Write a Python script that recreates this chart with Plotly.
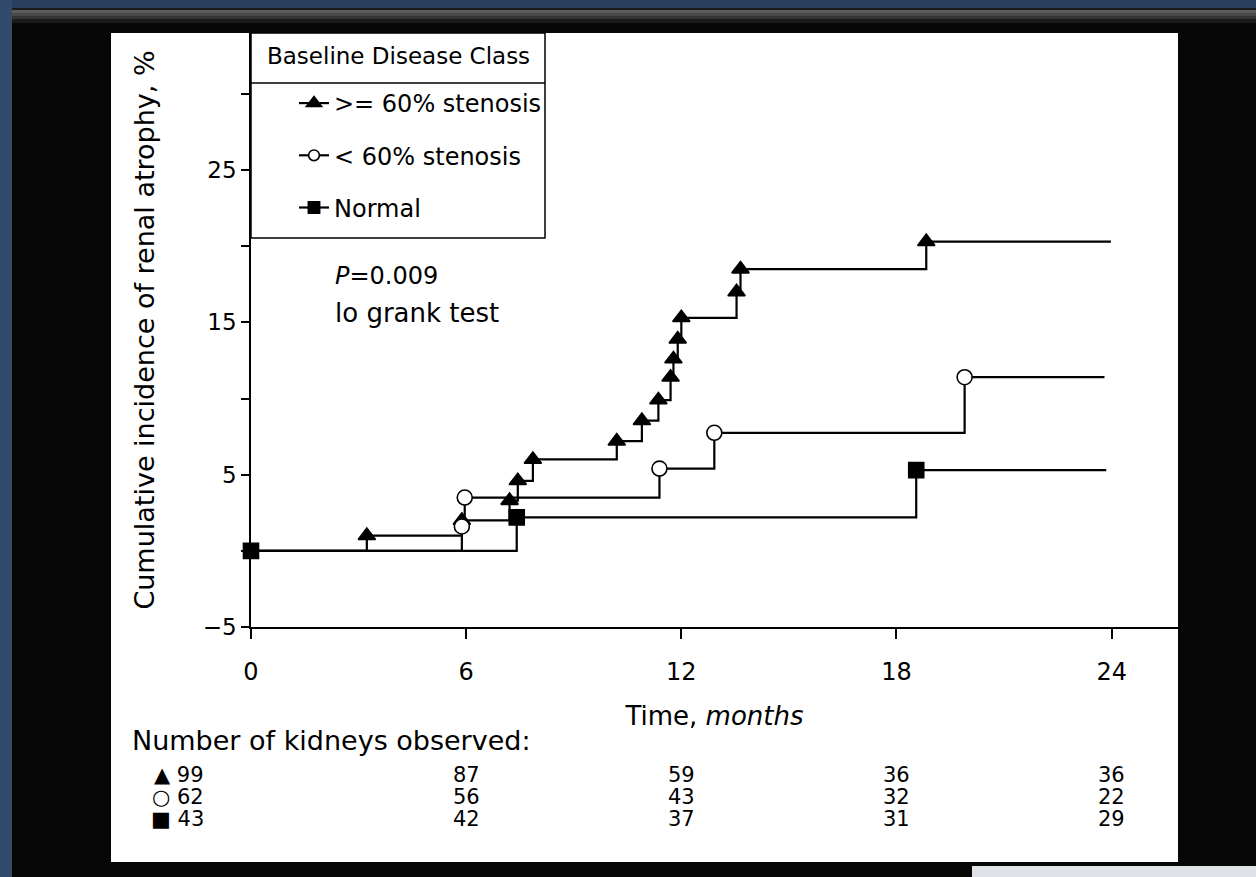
import plotly.graph_objects as go

# ---------------- data ----------------
series_names = [">= 60% stenosis", "< 60% stenosis", "Normal"]

# event times (months) and cumulative incidence (%) ; last point = end of follow-up
sten60_t = [0, 3.23, 5.88, 7.21, 7.44, 7.86, 10.2, 10.9, 11.36, 11.7, 11.78, 11.9, 12.0, 13.54, 13.65, 18.83, 23.98]
sten60_y = [0, 1.0, 2.0, 3.3, 4.6, 6.0, 7.2, 8.55, 9.9, 11.4, 12.6, 13.9, 15.3, 17.0, 18.5, 20.3, 20.3]

stenlt_t = [0, 5.88, 5.96, 11.39, 12.92, 19.9, 23.8]
stenlt_y = [0, 1.6, 3.5, 5.4, 7.75, 11.4, 11.4]

normal_t = [0, 7.41, 18.55, 23.85]
normal_y = [0, 2.2, 5.3, 5.3]

x_ticks = [0, 6, 12, 18, 24]
y_ticks = [-5, 0, 5, 10, 15, 20, 25, 30]
y_ticktext = ["\u22125", "", "5", "", "15", "", "25", ""]

risk_months = [0, 6, 12, 18, 24]
risk_sten60 = [99, 87, 59, 36, 36]
risk_stenlt = [62, 56, 43, 32, 22]
risk_normal = [43, 42, 37, 31, 29]
risk_symbols = ["\u25B2", "\u25CB", "\u25A0"]

# ---------------- layout geometry (pixels) ----------------
W, H = 1256, 877
L, R, T, B = 251, 1178, 33, 627


def px(x):
    return (x - L) / (R - L)


def py(y):
    return (B - y) / (B - T)


FONT = "DejaVu Sans, Liberation Sans, Arial, sans-serif"


def f(size):
    return dict(family=FONT, size=size, color="black")


fig = go.Figure()


def add_series(t, y, name, symbol, fill, first_marker):
    sizes = [15] * len(t)
    sizes[-1] = 0
    if not first_marker:
        sizes[0] = 0
    fig.add_trace(go.Scatter(
        x=t, y=y, name=name, mode="lines+markers",
        line=dict(shape="hv", color="black", width=2.2),
        marker=dict(symbol=symbol, size=sizes, color=fill, opacity=1,
                    line=dict(color="black", width=1.6)),
        cliponaxis=False, legendgroup=name, hoverinfo="skip",
    ))


add_series(sten60_t, sten60_y, series_names[0], "triangle-up", "black", False)
add_series(stenlt_t, stenlt_y, series_names[1], "circle", "white", False)
add_series(normal_t, normal_y, series_names[2], "square", "black", True)

shapes = []
# slide decoration
shapes.append(dict(type="rect", xref="paper", yref="paper", layer="below",
                   x0=px(0), x1=px(W), y0=py(0), y1=py(8), fillcolor="#283f5e", line_width=0))
shapes.append(dict(type="rect", xref="paper", yref="paper", layer="below",
                   x0=px(0), x1=px(12), y0=py(0), y1=py(H), fillcolor="#304b6b", line_width=0))
for (a, b, c) in [(8, 10, "#1c1c1c"), (10, 13, "#5c5c5c"), (13, 16, "#4a4a4a"),
                  (16, 19, "#333333"), (19, 23, "#1a1a1a")]:
    shapes.append(dict(type="rect", xref="paper", yref="paper", layer="below",
                       x0=px(12), x1=px(W), y0=py(a), y1=py(b), fillcolor=c, line_width=0))
shapes.append(dict(type="rect", xref="paper", yref="paper", layer="below",
                   x0=px(972), x1=px(W), y0=py(866), y1=py(H), fillcolor="#dfe3e8", line_width=0))
# white chart panel
shapes.append(dict(type="rect", xref="paper", yref="paper", layer="below",
                   x0=px(111), x1=px(1178), y0=py(862), y1=py(33), fillcolor="white", line_width=0))
# legend box
shapes.append(dict(type="rect", xref="paper", yref="paper", layer="above",
                   x0=px(251), x1=px(545), y0=py(238), y1=py(33),
                   line=dict(color="black", width=1.5)))
shapes.append(dict(type="line", xref="paper", yref="paper", layer="above",
                   x0=px(251), x1=px(545), y0=py(83), y1=py(83),
                   line=dict(color="black", width=1.5)))

ann = []
ann.append(dict(xref="paper", yref="paper", x=px(398), y=py(56), text="Baseline Disease Class",
                showarrow=False, xanchor="center", yanchor="middle", font=f(23)))
ann.append(dict(xref="paper", yref="paper", x=px(333), y=py(276), text="<i>P</i>=0.009",
                showarrow=False, xanchor="left", yanchor="middle", font=f(24)))
ann.append(dict(xref="paper", yref="paper", x=px(333), y=py(313), text="lo grank test",
                showarrow=False, xanchor="left", yanchor="middle", font=f(26)))
ann.append(dict(xref="paper", yref="paper", x=px(130), y=py(741), text="Number of kidneys observed:",
                showarrow=False, xanchor="left", yanchor="middle", font=f(27)))

rows = [risk_sten60, risk_stenlt, risk_normal]
row_y = [775, 797, 819]
for r, vals in enumerate(rows):
    for i, m in enumerate(risk_months):
        if i == 0:
            ann.append(dict(xref="paper", yref="paper", x=px(206), y=py(row_y[r]),
                            text=f"{risk_symbols[r]} {vals[i]}", showarrow=False,
                            xanchor="right", yanchor="middle", font=f(21)))
        else:
            ann.append(dict(xref="x", yref="paper", x=m, y=py(row_y[r]),
                            text=str(vals[i]), showarrow=False,
                            xanchor="center", yanchor="middle", font=f(21)))

fig.update_layout(
    width=W, height=H,
    margin=dict(l=L, r=W - R, t=T, b=H - B, autoexpand=False),
    paper_bgcolor="#070707", plot_bgcolor="white",
    font=f(24),
    shapes=shapes, annotations=ann,
    showlegend=True,
    legend=dict(x=px(294), y=py(81), xanchor="left", yanchor="top",
                bgcolor="rgba(0,0,0,0)", borderwidth=0, font=f(24),
                tracegroupgap=18, itemclick=False),
    xaxis=dict(range=[0, 25.85], tickvals=x_ticks, ticks="outside", ticklen=10, tickwidth=1.5,
               tickcolor="black", showline=True, linecolor="black", linewidth=1.5,
               showgrid=False, zeroline=False, ticklabelstandoff=12,
               tickfont=f(24),
               title=dict(text="Time, <i>months</i>", standoff=22, font=f(26))),
    yaxis=dict(range=[-5, 34], tickvals=y_ticks, ticktext=y_ticktext, ticks="outside",
               ticklen=8, tickwidth=1.5, tickcolor="black", showline=True, linecolor="black",
               linewidth=1.5, showgrid=False, zeroline=False, ticklabelstandoff=0,
               tickfont=f(23),
               title=dict(text="Cumulative incidence of renal atrophy, %", standoff=40,
                          font=f(27))),
)

fig.write_html("out.html", config={"displayModeBar": False},
               post_script="document.body.style.margin='0px';")
